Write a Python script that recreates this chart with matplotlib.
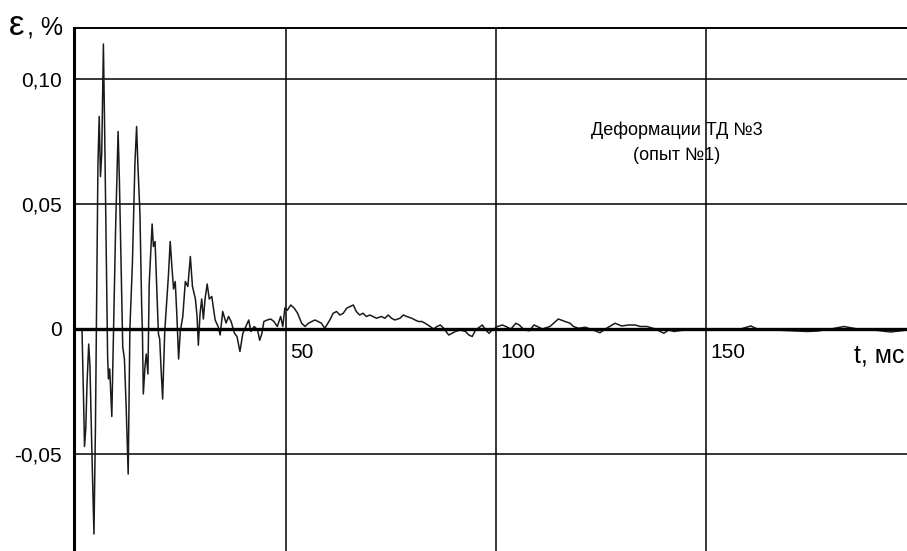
import matplotlib.pyplot as plt
import matplotlib.transforms as mtransforms

# strain record of gauge No.3, test No.1 (time in ms, strain in %)
t_ms = [
    0.0, 1.5, 1.9, 2.1, 2.4, 2.7, 3.1, 3.4, 3.8, 4.35,
    4.7, 5.0, 5.3, 5.6, 5.9, 6.2, 6.6, 6.9, 7.3, 7.6,
    7.8, 8.1, 8.6, 9.0, 9.5, 10.1, 10.4, 10.8, 11.2, 11.6,
    12.0, 12.5, 12.9, 13.5, 14.1, 14.5, 14.8, 15.3, 15.7, 15.9,
    16.1, 16.5, 16.8, 17.2, 17.5, 18.2, 18.5, 18.9, 19.3, 19.7,
    20.0, 20.3, 20.7, 21.2, 21.7, 22.1, 22.5, 22.9, 23.3, 23.7,
    24.1, 24.5, 24.9, 25.5, 26.1, 26.7, 27.3, 27.8, 28.5, 28.9,
    29.2, 29.6, 30.0, 30.4, 30.8, 31.3, 31.8, 32.4, 33.2, 33.9,
    34.4, 35.0, 35.8, 36.4, 37.0, 37.8, 38.4, 39.1, 39.8, 40.5,
    41.2, 41.7, 42.5, 43.3, 43.8, 44.3, 44.8, 45.6, 46.4, 47.2,
    48.0, 48.8, 49.3, 49.8, 50.4, 51.2, 52.0, 52.8, 53.8, 54.6,
    55.4, 56.2, 57.0, 57.7, 58.5, 59.3, 60.5, 61.3, 62.1, 62.9,
    63.7, 64.5, 65.3, 66.1, 66.8, 67.6, 68.4, 69.2, 70.0, 70.8,
    71.6, 72.8, 73.6, 74.4, 75.2, 76.0, 77.2, 78.0, 78.8, 80.0,
    80.8, 81.6, 82.4, 83.2, 84.4, 85.2, 86.0, 86.8, 87.6, 88.8,
    89.6, 90.4, 91.6, 92.8, 93.6, 94.4, 95.2, 96.8, 97.6, 98.4,
    99.2, 100.4, 101.6, 102.4, 103.6, 104.8, 105.6, 106.8, 108.0, 109.1,
    109.9, 111.1, 112.9, 114.9, 116.5, 117.7, 118.5, 119.7, 121.3, 123.2,
    124.8, 126.4, 128.4, 130.0, 131.6, 133.2, 134.4, 136.0, 138.0, 139.2,
    140.0, 141.2, 142.4, 144.8, 147.2, 152.7, 158.3, 160.7, 162.3, 166.3,
    170.2, 174.2, 176.6, 179.8, 182.9, 186.1, 190.1, 194.0, 198.0,
]
eps = [
    0.0, 0.0, -0.030, -0.047, -0.040, -0.022, -0.006, -0.015, -0.045, -0.082,
    -0.040, 0.013, 0.066, 0.085, 0.061, 0.070, 0.114, 0.079, 0.026, -0.011,
    -0.020, -0.016, -0.035, -0.001, 0.040, 0.079, 0.060, 0.026, -0.007, -0.012,
    -0.030, -0.058, 0.000, 0.026, 0.066, 0.081, 0.066, 0.046, 0.010, -0.002,
    -0.026, -0.015, -0.010, -0.018, 0.018, 0.042, 0.033, 0.035, 0.017, -0.002,
    -0.004, -0.015, -0.028, -0.001, 0.012, 0.022, 0.035, 0.025, 0.016, 0.019,
    0.005, -0.012, -0.001, 0.005, 0.019, 0.017, 0.029, 0.017, 0.012, 0.005,
    -0.0065, 0.006, 0.012, 0.004, 0.012, 0.018, 0.012, 0.013, 0.0036, 0.001,
    -0.0024, 0.007, 0.0024, 0.005, 0.003, -0.0017, -0.003, -0.009, -0.0017, 0.001,
    0.0036, -0.001, 0.001, -0.0004, -0.0045, -0.002, 0.003, 0.0036, 0.004, 0.003,
    0.001, 0.005, 0.001, 0.0084, 0.0075, 0.0096, 0.0084, 0.0064, 0.0023, 0.001,
    0.0023, 0.003, 0.0036, 0.003, 0.0023, 0.0003, 0.0036, 0.0063, 0.007, 0.0056,
    0.0063, 0.0083, 0.009, 0.0096, 0.007, 0.0056, 0.0063, 0.005, 0.0056, 0.005,
    0.0043, 0.005, 0.0043, 0.0056, 0.0043, 0.0036, 0.0043, 0.0056, 0.005, 0.0043,
    0.0036, 0.003, 0.003, 0.0023, 0.001, 0.0, 0.001, 0.0016, 0.0003, -0.0024,
    -0.0017, -0.001, -0.0004, -0.001, -0.0024, -0.003, -0.0004, 0.0016, -0.0004, -0.0017,
    -0.0004, 0.001, 0.0016, 0.001, 0.0, 0.0023, 0.0016, -0.0004, -0.0007, 0.0016,
    0.001, 0.0, 0.001, 0.004, 0.003, 0.0023, 0.001, 0.0003, 0.0007, -0.0004,
    -0.0015, 0.0003, 0.0023, 0.0012, 0.0016, 0.0016, 0.001, 0.001, 0.0, -0.001,
    -0.0017, -0.0004, -0.001, -0.0004, 0.0, 0.0, 0.0, 0.0012, 0.0, -0.0004,
    -0.0007, -0.001, -0.0008, 0.0, 0.001, 0.0, -0.0004, -0.0012, -0.0004,
]

y_ticks = [0.10, 0.05, 0.0, -0.05]
y_labels = ['0,10', '0,05', '0', '-0,05']
x_ticks = [50, 100, 150]
x_labels = ['50', '100', '150']

plt.rcParams['font.family'] = ['Liberation Sans', 'DejaVu Sans']

fig = plt.figure(figsize=(9.07, 5.51), dpi=100)
ax = fig.add_axes([74 / 907, 0, 833 / 907, 523 / 551])
ax.set_xlim(-0.4, 197.9)
ax.set_ylim(-0.0888, 0.1204)

# grid
for x in x_ticks:
    ax.axvline(x, color='black', lw=1.1, zorder=1)
for y in y_ticks:
    if y != 0:
        ax.axhline(y, color='black', lw=1.1, zorder=1)
ax.axhline(0, color='black', lw=2.4, zorder=3)

ax.plot(t_ms, eps, color='#1a1a1a', lw=1.1, zorder=2)

ax.spines['right'].set_visible(False)
ax.spines['bottom'].set_visible(False)
ax.spines['left'].set_linewidth(2.2)
ax.spines['top'].set_linewidth(1.4)

ax.set_xticks([])
ax.set_yticks(y_ticks, y_labels)
ax.tick_params(axis='y', length=0, pad=9, labelsize=15)

for x, lab in zip(x_ticks, x_labels):
    ax.annotate(lab, (x, 0), xytext=(3.5, -21), textcoords='offset points',
                fontsize=15, va='baseline', ha='left')

# axis name for time, pushed against the right edge
trans = mtransforms.blended_transform_factory(ax.transAxes, ax.transData)
ax.annotate('t, мс', (1.0, 0), xycoords=trans, xytext=(-1.5, -24),
            textcoords='offset points', fontsize=18, va='baseline', ha='right',
            annotation_clip=False)

ax.text(143, 0.0745, 'Деформации ТД №3\n(опыт №1)', fontsize=13,
        ha='center', va='center', multialignment='center', linespacing=1.55)

# axis name: epsilon drawn a bit larger than the unit
fig.text(9 / 907, 1 - 35 / 551, 'ε', fontsize=25, va='baseline')
fig.text(27 / 907, 1 - 35 / 551, ', %', fontsize=18, va='baseline')

fig.savefig('out.png', dpi=100)
